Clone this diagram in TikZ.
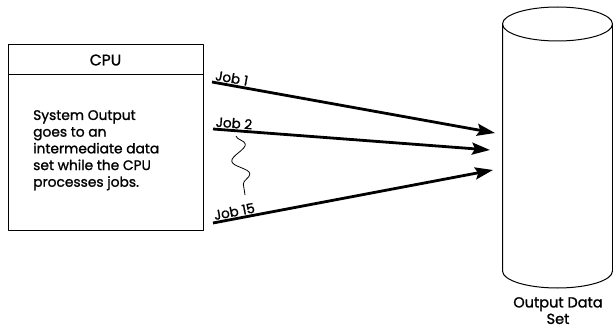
\documentclass[tikz,border=0pt]{standalone}
\usepackage{fontspec}
\setmainfont{Poppins}[FakeBold=1.3]
\usetikzlibrary{arrows.meta,decorations.pathmorphing}

\tikzset{
  jobarrow/.style={line width=2.8pt,-{Stealth[length=18pt,width=12pt,inset=3pt]}},
  joblabel/.style={sloped,anchor=south west,inner sep=1pt,font=\fontsize{13.5}{15}\selectfont},
  boxtext/.style={align=left,font=\fontsize{13.8}{16.7}\selectfont}
}

\begin{document}
\begin{tikzpicture}[x=1pt,y=-1pt,line join=round]
\useasboundingbox (0,0) rectangle (613,329);

% CPU box
\node[draw,line width=1pt,minimum width=195pt,minimum height=185pt,inner sep=0pt] (cpu) at (105.5,137.5) {};
\coordinate (hdl) at (8,74);
\coordinate (hdr) at (203,74);
\draw[line width=0.8pt] (hdl) -- (hdr);
\node[font=\fontsize{15.5}{17}\selectfont] (cputitle) at (105.5,60) {CPU};
\node[boxtext,anchor=north west,inner sep=0pt] (cputext) at (33,110)
  {System Output\\goes to an\\intermediate data\\set while the CPU\\processes jobs.};

% output data set (cylinder)
\coordinate (top) at (557.5,24);
\coordinate (bot) at (557.5,271);
\draw[line width=1pt] (top) ellipse [x radius=55,y radius=17];
\draw[line width=1pt] ([xshift=-55pt]top) -- ([xshift=-55pt]bot)
  arc[start angle=180,end angle=360,x radius=55,y radius=-17]
  -- ([xshift=55pt]top);
\node[font=\fontsize{14.5}{16.5}\selectfont,align=center,anchor=north,inner sep=0pt] (dslabel) at (558,297) {Output Data\\Set};

% job arrows
\coordinate (j1s) at (212,82);
\coordinate (j1e) at (495,133);
\coordinate (j2s) at (213,129);
\coordinate (j2e) at (490,150);
\coordinate (j15s) at (213,223);
\coordinate (j15e) at (493,170);
\draw[jobarrow] (j1s) -- node[joblabel,pos=0] {Job 1} (j1e);
\draw[jobarrow] (j2s) -- node[joblabel,pos=0] {Job 2} (j2e);
\draw[jobarrow] (j15s) -- node[joblabel,pos=0] {Job 15} (j15e);

% squiggle between job 2 and job 15
\coordinate (sqa) at (236,136);
\coordinate (sqb) at (245,195);
\draw[line width=0.8pt,decorate,decoration={snake,segment length=30pt,amplitude=8pt}] (sqa) -- (sqb);
\end{tikzpicture}
\end{document}
